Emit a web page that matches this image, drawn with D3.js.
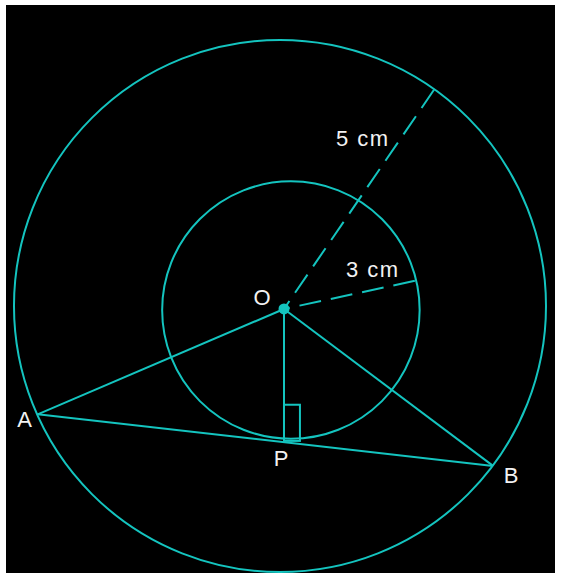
<!DOCTYPE html>
<html>
<head>
  <title>Concentric circles, chord AB tangent at P</title>
  <script src="https://d3js.org/d3.v7.min.js"></script>
  <style>
    body {
      margin: 0;
      background: #ffffff;
    }
    text {
      font-family: "Liberation Sans", Arial, sans-serif;
      fill: #f2f2f2;
    }
  </style>
</head>
<body>
  <div id="chart"></div>

  <script>
    // Geometry in cm, origin at O, y pointing up (drawing is not to scale)
    const pointNames = ["O", "A", "B", "P", "R5", "R3"];
    const pointX = [0, -4.63, 3.93, 0, 2.82, 2.46];
    const pointY = [0, -1.98, -2.95, -2.48, 4.12, 0.53];

    const circleNames = ["outer", "inner"];
    const circleCx = [-0.075, 0.13];
    const circleCy = [0.056, -0.02];
    const circleR = [5.0, 2.42];

    // solid segments and dashed radii
    const solidSegments = [["O", "A"], ["O", "B"], ["A", "B"], ["O", "P"]];
    const dashedSegments = [["O", "R5"], ["O", "R3"]];

    // right angle mark at P (width, height in cm)
    const rightAngleSize = [0.3, 0.68];

    const pointLabels = ["O", "A", "B", "P"];
    const radiusLabels = ["5 cm", "3 cm"];
    const radiusLabelX = [1.48, 1.67];
    const radiusLabelY = [3.06, 0.6];

    const width = 561;
    const height = 577;
    const teal = "#14c4bf";

    const pts = {};
    pointNames.forEach(function(n, i) {
      pts[n] = { x: pointX[i], y: pointY[i] };
    });

    // 1 cm = 53.2 px, O sits at (284, 309)
    const x = d3.scaleLinear().domain([-5.338, 5.207]).range([0, width]);
    const y = d3.scaleLinear().domain([5.808, -5.038]).range([0, height]);
    const k = x(1) - x(0);

    const svg = d3.select("#chart")
      .append("svg")
      .attr("width", width)
      .attr("height", height);

    // black panel with a thin white margin
    svg.append("rect")
      .attr("x", 6)
      .attr("y", 5)
      .attr("width", 549)
      .attr("height", 568)
      .attr("fill", "#000");

    svg.selectAll("circle.ring")
      .data(circleNames)
      .join("circle")
      .attr("class", "ring")
      .attr("cx", function(d, i) { return x(circleCx[i]); })
      .attr("cy", function(d, i) { return y(circleCy[i]); })
      .attr("r", function(d, i) { return circleR[i] * k; })
      .attr("fill", "none")
      .attr("stroke", teal)
      .attr("stroke-width", 2);

    svg.selectAll("line.solid")
      .data(solidSegments)
      .join("line")
      .attr("class", "solid")
      .attr("x1", function(d) { return x(pts[d[0]].x); })
      .attr("y1", function(d) { return y(pts[d[0]].y); })
      .attr("x2", function(d) { return x(pts[d[1]].x); })
      .attr("y2", function(d) { return y(pts[d[1]].y); })
      .attr("stroke", teal)
      .attr("stroke-width", 2);

    svg.selectAll("line.dashed")
      .data(dashedSegments)
      .join("line")
      .attr("class", "dashed")
      .attr("x1", function(d) { return x(pts[d[1]].x); })
      .attr("y1", function(d) { return y(pts[d[1]].y); })
      .attr("x2", function(d) { return x(pts[d[0]].x); })
      .attr("y2", function(d) { return y(pts[d[0]].y); })
      .attr("stroke", teal)
      .attr("stroke-width", 2)
      .attr("stroke-dasharray", "22,10");

    // right angle square at P
    svg.append("rect")
      .attr("x", x(pts.P.x))
      .attr("y", y(pts.P.y + rightAngleSize[1]))
      .attr("width", rightAngleSize[0] * k)
      .attr("height", rightAngleSize[1] * k)
      .attr("fill", "none")
      .attr("stroke", teal)
      .attr("stroke-width", 2);

    // centre dot
    svg.append("circle")
      .attr("cx", x(pts.O.x))
      .attr("cy", y(pts.O.y))
      .attr("r", 5.5)
      .attr("fill", teal);

    // point labels, offsets in px from each point
    const labelOffset = {
      O: [-22, -4],
      A: [-13, 13],
      B: [18, 17],
      P: [-3, 25]
    };

    svg.selectAll("text.pt")
      .data(pointLabels)
      .join("text")
      .attr("class", "pt")
      .attr("x", function(d) { return x(pts[d].x) + labelOffset[d][0]; })
      .attr("y", function(d) { return y(pts[d].y) + labelOffset[d][1]; })
      .attr("text-anchor", "middle")
      .attr("font-size", 22)
      .text(function(d) { return d; });

    svg.selectAll("text.rad")
      .data(radiusLabels)
      .join("text")
      .attr("class", "rad")
      .attr("x", function(d, i) { return x(radiusLabelX[i]); })
      .attr("y", function(d, i) { return y(radiusLabelY[i]); })
      .attr("text-anchor", "middle")
      .attr("font-size", 22)
      .attr("letter-spacing", 1.5)
      .text(function(d) { return d; });
  </script>
</body>
</html>
